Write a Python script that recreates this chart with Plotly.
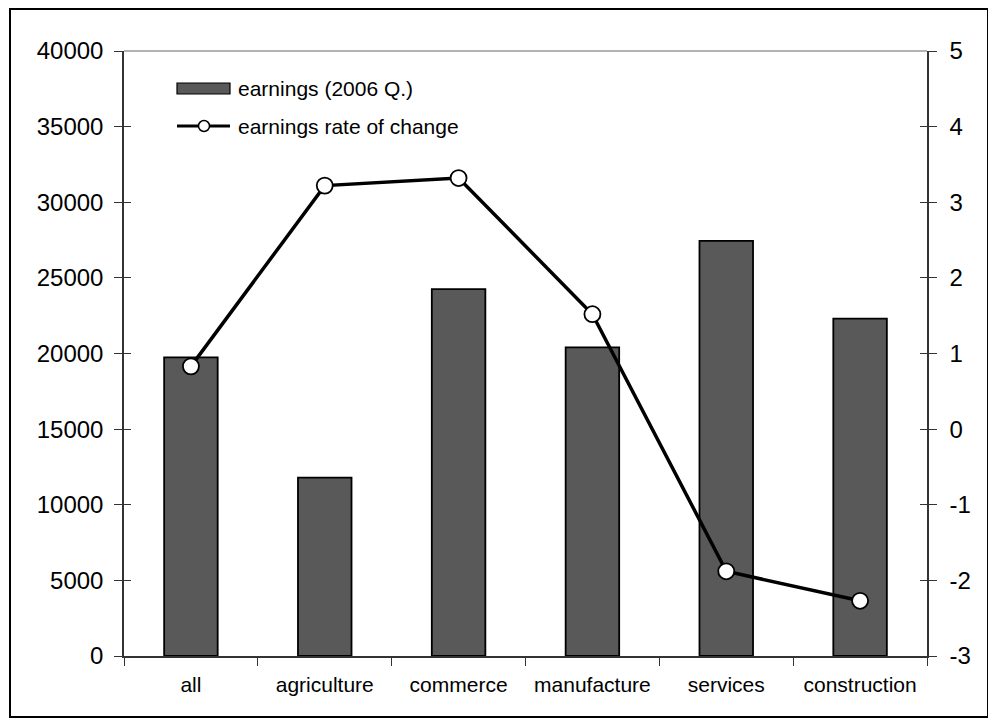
import plotly.graph_objects as go

categories = ["all", "agriculture", "commerce", "manufacture", "services", "construction"]
earnings = [19750, 11800, 24250, 20400, 27450, 22300]
rate_of_change = [0.83, 3.22, 3.32, 1.52, -1.88, -2.27]

left_ticks = [0, 5000, 10000, 15000, 20000, 25000, 30000, 35000, 40000]
left_labels = [str(v) for v in left_ticks]
right_ticks = [-3, -2, -1, 0, 1, 2, 3, 4, 5]
right_labels = [str(v) for v in right_ticks]

# page body has an 8px margin, so work in window pixels and shift
OFF = 8
W, H = 996 - OFF, 726 - OFF
L, R, T, B = 124 - OFF, 927 - OFF, 51 - OFF, 656 - OFF
FONT = "Liberation Sans, Arial, sans-serif"

def px(x):
    return (x - OFF - L) / (R - L)

def py(y):
    return (B - (y - OFF)) / (B - T)

fig = go.Figure()
fig.add_trace(go.Bar(
    x=categories, y=earnings, name="earnings (2006 Q.)",
    marker=dict(color="#595959", line=dict(color="black", width=1.8)),
    width=0.4, yaxis="y", showlegend=False,
))
fig.add_trace(go.Scatter(
    x=categories, y=rate_of_change, name="earnings rate of change",
    mode="lines+markers", yaxis="y2",
    line=dict(color="black", width=3.5),
    marker=dict(symbol="circle", size=16, color="white", line=dict(color="black", width=1.8)),
    showlegend=False,
))

axcol = "#333333"
fig.update_layout(
    width=W, height=H,
    margin=dict(l=L, r=W - R, t=T, b=H - B, pad=0),
    paper_bgcolor="white", plot_bgcolor="white",
    font=dict(family=FONT, color="black"),
    xaxis=dict(
        type="category", showgrid=False, showline=True, linecolor=axcol, linewidth=1.5,
        ticks="outside", tickson="boundaries", ticklen=8, tickcolor=axcol, tickwidth=1.2,
        tickfont=dict(size=21, family=FONT), range=[-0.5, 5.5],
        ticklabelstandoff=9,
    ),
    yaxis=dict(
        range=[0, 40000], tickvals=left_ticks, ticktext=left_labels,
        showgrid=False, zeroline=False,
        showline=True, linecolor=axcol, linewidth=1.5,
        ticks="outside", ticklen=8, tickcolor=axcol, tickwidth=1.2,
        tickfont=dict(size=24, family=FONT), ticklabelstandoff=6,
    ),
    yaxis2=dict(
        range=[-3, 5], tickvals=right_ticks, ticktext=right_labels,
        overlaying="y", side="right",
        showgrid=False, zeroline=False, showline=True, linecolor=axcol, linewidth=1.5,
        ticks="outside", ticklen=8, tickcolor=axcol, tickwidth=1.2,
        tickfont=dict(size=24, family=FONT), ticklabelstandoff=8,
    ),
    yaxis3=dict(
        range=[0, 40000], tickvals=left_ticks, overlaying="y", side="left",
        showgrid=False, zeroline=False, showline=False, showticklabels=False,
        ticks="inside", ticklen=7, tickcolor=axcol, tickwidth=1.2,
    ),
    yaxis4=dict(
        range=[-3, 5], tickvals=right_ticks, overlaying="y", side="right",
        showgrid=False, zeroline=False, showline=False, showticklabels=False,
        ticks="inside", ticklen=7, tickcolor=axcol, tickwidth=1.2,
    ),
)
# invisible traces to activate the overlay tick axes
fig.add_trace(go.Scatter(x=[categories[0]], y=[0], yaxis="y3", mode="markers",
                         marker=dict(opacity=0), showlegend=False, hoverinfo="skip"))
fig.add_trace(go.Scatter(x=[categories[0]], y=[0], yaxis="y4", mode="markers",
                         marker=dict(opacity=0), showlegend=False, hoverinfo="skip"))

shapes = []
# outer border
shapes.append(dict(type="rect", xref="paper", yref="paper",
                   x0=px(10), x1=px(988), y0=py(9), y1=py(717),
                   line=dict(color="black", width=2), fillcolor="rgba(0,0,0,0)", layer="below"))
# top plot border (gray)
shapes.append(dict(type="line", xref="paper", yref="paper", x0=0, x1=1, y0=1, y1=1,
                   line=dict(color="#9a9a9a", width=1.5)))
# legend: bar symbol
shapes.append(dict(type="rect", xref="paper", yref="paper",
                   x0=px(177), x1=px(230), y0=py(83), y1=py(94),
                   line=dict(color="black", width=1.2), fillcolor="#595959"))
# legend: line symbol
shapes.append(dict(type="line", xref="paper", yref="paper",
                   x0=px(177), x1=px(230), y0=py(126), y1=py(126),
                   line=dict(color="black", width=3)))
shapes.append(dict(type="circle", xref="paper", yref="paper",
                   x0=px(198.5), x1=px(209.5), y0=py(120.5), y1=py(131.5),
                   line=dict(color="black", width=1.5), fillcolor="white"))
fig.update_layout(shapes=shapes)

fig.add_annotation(xref="paper", yref="paper", x=px(236), y=py(88.5), xanchor="left", yanchor="middle",
                   text="earnings (2006 Q.)", showarrow=False, font=dict(size=21, family=FONT))
fig.add_annotation(xref="paper", yref="paper", x=px(236), y=py(126), xanchor="left", yanchor="middle",
                   text="earnings rate of change", showarrow=False, font=dict(size=21, family=FONT))

fig.write_html("out.html")
